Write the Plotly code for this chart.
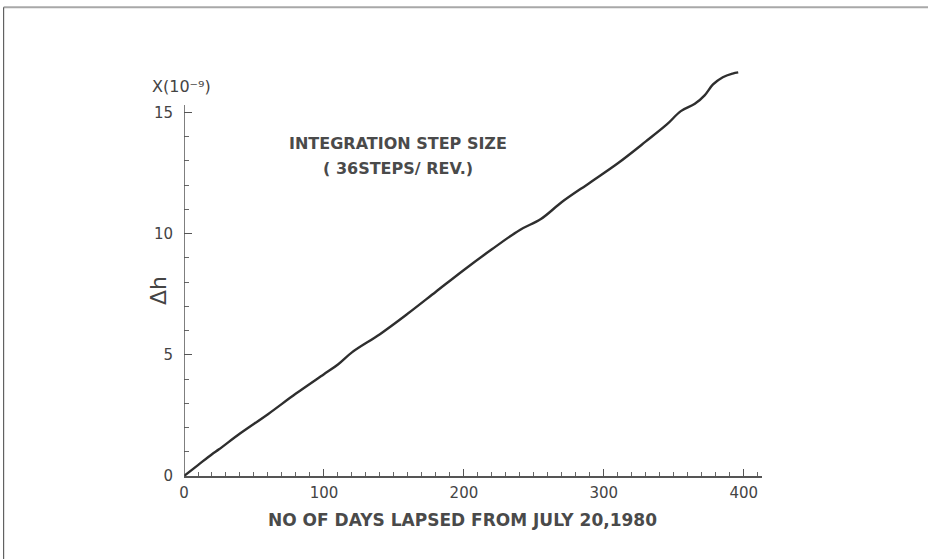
import plotly.graph_objects as go

# Accumulated drift in h versus elapsed days
days = [0, 10, 20, 25, 40, 60, 80, 100, 110, 120, 140, 160, 180, 200, 220,
        240, 255, 270, 290, 310, 330, 345, 355, 365, 372, 378, 385, 392, 396]
delta_h = [0, 0.45, 0.9, 1.1, 1.75, 2.55, 3.4, 4.2, 4.6, 5.1, 5.85, 6.7, 7.6,
           8.5, 9.35, 10.15, 10.6, 11.3, 12.1, 12.9, 13.8, 14.5, 15.05, 15.35,
           15.7, 16.15, 16.45, 16.6, 16.65]

x_major = [0, 100, 200, 300, 400]
x_minor = list(range(0, 411, 10))
y_major = [0, 5, 10, 15]
y_minor = list(range(0, 16))

ink = "#444444"
font = dict(family="DejaVu Sans", color=ink)
bold = dict(family="DejaVu Sans", color="#4a4a4a", weight="bold")

fig = go.Figure()
fig.add_trace(go.Scatter(x=days, y=delta_h, mode="lines",
                         line=dict(color="#2e2e2e", width=2.4, shape="spline"),
                         hoverinfo="skip", showlegend=False))

# vertical axis line stops just above the last labelled tick
fig.add_shape(type="line", xref="x", yref="y", x0=0, x1=0, y0=0, y1=15.3,
              line=dict(color="#555", width=1.5))
# page frame
fig.add_shape(type="line", xref="paper", yref="paper", x0=-0.312, x1=1.3,
              y0=1.124, y1=1.124, line=dict(color="#a8a8a8", width=2))
fig.add_shape(type="line", xref="paper", yref="paper", x0=-0.312, x1=-0.312,
              y0=1.124, y1=-0.2, line=dict(color="#444", width=1))

fig.update_xaxes(range=[0, 413], tickmode="array", tickvals=x_major,
                 ticks="inside", ticklen=7, tickwidth=1.2, tickcolor="#555",
                 minor=dict(tickmode="array", tickvals=x_minor, ticks="inside",
                            ticklen=4, tickwidth=1, tickcolor="#666"),
                 showline=True, linecolor="#555", linewidth=1.5,
                 showgrid=False, zeroline=False, ticklabelstandoff=2,
                 tickfont=dict(size=15, **font))
fig.update_yaxes(range=[0, 17.2], tickmode="array", tickvals=y_major,
                 ticks="inside", ticklen=8, tickwidth=1.2, tickcolor="#555",
                 minor=dict(tickmode="array", tickvals=y_minor, ticks="inside",
                            ticklen=5, tickwidth=1, tickcolor="#666"),
                 showline=False, showgrid=False, zeroline=False,
                 ticklabelstandoff=10,
                 tickfont=dict(size=15, **font))

fig.add_annotation(x=153, y=13.7, xref="x", yref="y", showarrow=False,
                   xanchor="center", yanchor="middle",
                   text="INTEGRATION STEP SIZE", font=dict(size=16, **bold))
fig.add_annotation(x=153, y=12.7, xref="x", yref="y", showarrow=False,
                   xanchor="center", yanchor="middle",
                   text="( 36STEPS/ REV.)", font=dict(size=16, **bold))
fig.add_annotation(x=199, y=-0.105, xref="x", yref="paper", showarrow=False,
                   xanchor="center", yanchor="middle",
                   text="NO OF DAYS LAPSED FROM JULY 20,1980",
                   font=dict(size=17, **bold))
fig.add_annotation(x=-0.045, y=0.446, xref="paper", yref="paper",
                   showarrow=False, text="Δh", textangle=-90,
                   xanchor="center", yanchor="middle",
                   font=dict(size=22, **font))
fig.add_annotation(x=-0.005, y=0.935, xref="paper", yref="paper",
                   showarrow=False, text="X(10⁻⁹)",
                   xanchor="center", yanchor="middle",
                   font=dict(size=16, **font))

fig.update_layout(width=928, height=559, paper_bgcolor="white",
                  plot_bgcolor="white",
                  margin=dict(l=184, r=166, t=58.6, b=83))

fig.write_html("out.html")
